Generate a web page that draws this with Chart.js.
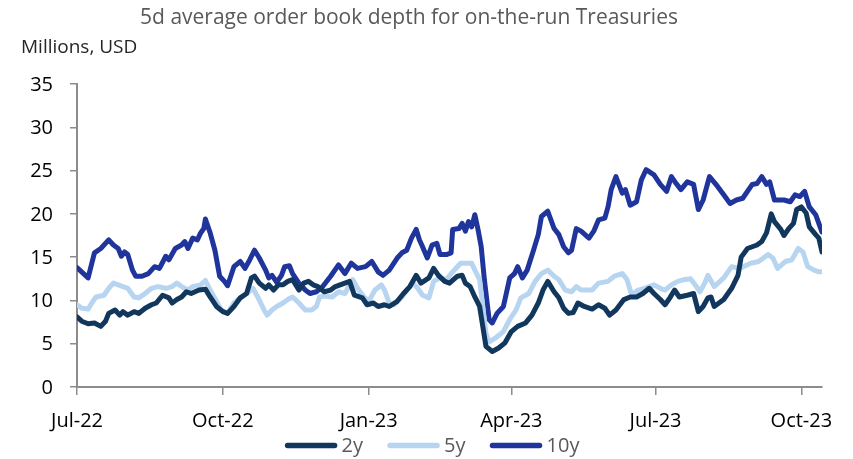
<!DOCTYPE html>
<html>
<head>
<meta charset="utf-8">
<script src="https://cdn.jsdelivr.net/npm/chart.js@4.4.1/dist/chart.umd.min.js"></script>
<style>
  html, body { margin: 0; padding: 0; background: #ffffff; }
  canvas { display: block; }
</style>
</head>
<body>
<canvas id="depth" width="853" height="459"></canvas>
<script>
// x positions are calendar days counted from 1 July 2022
const tickDays = [0, 92, 184, 274, 365, 457];
const tickLabels = ['Jul-22', 'Oct-22', 'Jan-23', 'Apr-23', 'Jul-23', 'Oct-23'];
const lastDay = 470;

const seriesNames = ['2y', '5y', '10y'];

const days2y = [0,3,7,11,15,18,20,24,27,29,
  32,36,39,43,47,50,54,58,60,63,
  66,69,72,77,81,84,88,92,95,99,
  103,107,110,112,115,119,121,124,127,130,
  133,136,140,143,146,149,152,156,160,163,
  169,172,175,180,183,187,190,194,197,202,
  206,210,214,217,222,225,228,232,235,240,
  243,245,248,251,254,256,258,262,266,270,
  274,278,283,287,291,294,297,301,304,307,
  310,313,316,320,325,329,333,336,340,345,
  349,353,357,361,364,368,371,374,377,380,
  385,389,392,395,398,400,402,408,413,417,
  419,423,429,432,435,438,440,444,446,449,
  452,454,457,460,462,466,468,470];
const depth2y = [8.1,7.6,7.3,7.4,7.0,7.6,8.5,8.9,8.3,8.7,
  8.3,8.7,8.5,9.1,9.5,9.7,10.6,10.3,9.7,10.1,
  10.4,11.0,10.8,11.2,11.3,10.4,9.3,8.7,8.5,9.3,
  10.3,10.8,12.6,12.8,12.0,11.4,11.8,11.2,11.8,11.8,
  12.2,12.4,11.2,12.0,12.2,11.8,11.6,11.0,11.2,11.6,
  12.0,12.2,10.6,10.3,9.5,9.7,9.3,9.5,9.3,9.9,
  10.8,11.6,12.9,12.0,12.6,13.7,12.9,12.2,12.0,12.8,
  12.9,12.0,11.6,10.4,9.3,7.0,4.7,4.1,4.5,5.1,
  6.4,7.0,7.4,8.3,9.7,11.2,12.2,11.0,10.3,9.1,
  8.5,8.6,9.7,9.3,9.0,9.5,9.1,8.3,8.9,10.1,
  10.4,10.4,10.8,11.4,10.8,10.1,9.5,10.3,11.2,10.4,
  10.6,10.8,8.7,9.3,10.3,10.4,9.3,10.1,11.4,12.9,
  15.0,16.0,16.4,16.8,17.8,20.0,19.1,18.2,17.5,18.3,
  18.9,20.5,20.8,20.1,18.5,17.6,17.2,15.6];

const days5y = [0,3,7,10,12,17,20,23,26,29,
  32,36,39,43,47,51,56,60,63,66,
  70,73,78,81,84,88,91,95,99,103,
  107,111,114,118,120,123,126,130,133,136,
  140,144,148,151,153,156,161,165,169,172,
  174,177,181,184,188,192,194,197,200,205,
  209,212,215,218,222,225,229,233,237,242,
  246,249,251,254,256,258,260,265,269,273,
  277,280,285,289,293,297,301,304,308,312,
  315,318,325,329,335,339,344,347,350,354,
  358,364,368,371,375,379,383,387,390,393,
  396,398,402,408,413,418,425,430,436,439,
  442,447,451,455,458,461,465,468,470];
const depth5y = [9.5,9.1,9.0,9.9,10.4,10.6,11.4,12.0,11.8,11.6,
  11.4,10.4,10.3,10.8,11.4,11.6,11.4,11.6,12.0,11.6,
  11.2,11.6,11.8,12.3,11.2,9.9,8.9,8.5,9.7,10.3,
  10.8,11.4,10.4,8.9,8.3,8.9,9.3,9.7,10.1,10.4,
  9.7,8.9,8.9,9.3,10.4,10.5,10.4,11.0,10.8,11.8,
  12.4,11.4,10.4,9.9,11.2,11.8,11.2,9.7,9.5,10.4,
  11.4,12.0,11.4,10.6,10.3,12.2,12.6,12.4,13.3,14.3,
  14.3,14.3,13.5,12.4,9.3,6.2,5.2,5.8,6.4,7.8,
  8.9,10.3,10.8,12.2,13.1,13.5,12.8,12.4,11.2,11.0,
  11.6,11.2,11.2,12.0,12.2,12.8,13.1,12.4,10.6,11.2,
  11.4,11.8,11.4,11.2,11.8,12.2,12.4,12.5,11.8,11.0,
  12.0,12.9,11.6,12.6,13.9,13.7,14.3,14.5,15.3,14.9,
  13.7,14.5,14.7,16.0,15.6,13.9,13.5,13.3,13.3];

const days10y = [0,7,11,15,20,23,26,28,30,32,
  35,37,41,45,49,52,56,58,62,66,
  68,70,73,76,78,80,81,84,87,90,
  93,95,99,103,106,109,112,115,119,121,
  123,126,129,131,134,136,140,144,147,151,
  155,160,165,169,173,177,182,186,190,193,
  197,202,205,208,211,214,216,218,221,224,
  227,229,233,236,237,241,243,245,247,249,
  251,253,255,257,260,262,265,269,273,276,
  278,281,284,288,291,293,297,301,304,307,
  310,312,315,318,323,326,329,333,335,337,
  340,344,346,349,353,356,359,364,368,372,
  375,378,381,385,389,392,395,399,404,408,
  412,416,420,426,429,432,435,437,440,446,
  450,453,456,459,462,466,470];
const depth10y = [13.8,12.6,15.5,16.0,17.0,16.4,16.0,15.1,15.6,15.3,
  13.5,12.8,12.8,13.1,13.9,13.7,15.1,14.7,16.0,16.4,
  16.8,16.0,17.2,17.0,17.8,18.3,19.4,17.8,15.8,12.8,
  12.2,11.7,13.9,14.5,13.7,14.7,15.8,14.9,13.5,12.6,
  12.9,12.1,12.9,13.9,14.0,13.1,12.0,11.2,10.8,11.0,
  11.6,12.8,14.1,13.1,14.3,13.7,13.9,14.5,13.3,12.9,
  13.5,14.9,15.5,15.8,17.2,18.2,17.0,16.2,14.9,16.4,
  16.6,15.3,15.3,15.5,18.2,18.3,18.9,18.0,19.1,18.5,
  19.9,18.2,16.2,12.4,7.8,7.4,8.5,9.3,12.6,13.1,
  13.9,12.6,13.5,15.8,17.6,19.7,20.3,18.3,17.6,16.2,
  15.5,15.8,18.3,18.0,17.2,18.0,19.3,19.5,20.8,22.8,
  24.3,22.4,22.8,21.0,21.4,23.9,25.1,24.5,23.4,22.6,
  24.3,23.5,22.8,23.7,23.4,20.5,21.6,24.3,23.2,22.2,
  21.2,21.6,21.8,23.4,23.5,24.3,23.4,23.7,21.6,21.6,
  21.4,22.2,22.0,22.6,20.8,19.9,17.9];

const yTicks = [0, 5, 10, 15, 20, 25, 30, 35];

const FONT = '"Open Sans", "DejaVu Sans", sans-serif';
const AXIS_GREY = '#8c8c8c';
const LEGEND_GREY = '#595959';

function toPoints(days, values) {
  return days.map((d, i) => ({ x: d, y: values[i] }));
}

function lineSet(label, days, values, colour) {
  return {
    label: label,
    data: toPoints(days, values),
    borderColor: colour,
    backgroundColor: colour,
    borderWidth: 5,
    borderJoinStyle: 'round',
    borderCapStyle: 'round',
    pointRadius: 0,
    tension: 0,
    fill: false
  };
}

// Heading and unit caption above the plot
const headings = {
  id: 'headings',
  afterDraw(chart) {
    const ctx = chart.ctx;
    ctx.save();
    ctx.textBaseline = 'middle';
    ctx.textAlign = 'center';
    ctx.fillStyle = '#595959';
    ctx.font = '21px ' + FONT;
    ctx.fillText('5d average order book depth for on-the-run Treasuries', 409, 18);
    ctx.textAlign = 'left';
    ctx.fillStyle = '#262626';
    ctx.font = '19px ' + FONT;
    ctx.fillText('Millions, USD', 21, 48);
    ctx.restore();
  }
};

// Value labels of the y axis, right-aligned a fixed gap left of the plot edge
const yLabels = {
  id: 'yLabels',
  afterDraw(chart) {
    const ctx = chart.ctx;
    const scale = chart.scales.y;
    const edge = chart.chartArea.left;
    ctx.save();
    ctx.font = '20px ' + FONT;
    ctx.fillStyle = '#000000';
    ctx.textAlign = 'right';
    ctx.textBaseline = 'middle';
    yTicks.forEach(v => {
      ctx.fillText(String(v), edge - 24, scale.getPixelForValue(v) + 1);
    });
    ctx.restore();
  }
};

// One-row legend under the axis: short rounded line swatch, then the series name
const legendRow = {
  id: 'legendRow',
  afterDraw(chart) {
    const ctx = chart.ctx;
    const swatch = 53, textGap = 4, itemGap = 24, midX = 432, lineY = 445.5;
    ctx.save();
    ctx.font = '20px ' + FONT;
    const items = chart.data.datasets.map(ds => ({
      text: ds.label,
      colour: ds.borderColor,
      width: ctx.measureText(ds.label).width
    }));
    const total = items.reduce((s, it) => s + swatch + textGap + it.width, 0) + itemGap * (items.length - 1);
    let x = midX - total / 2;
    items.forEach(it => {
      ctx.strokeStyle = it.colour;
      ctx.lineWidth = 5.5;
      ctx.lineCap = 'round';
      ctx.beginPath();
      ctx.moveTo(x + 3, lineY);
      ctx.lineTo(x + swatch - 3, lineY);
      ctx.stroke();
      ctx.fillStyle = LEGEND_GREY;
      ctx.textAlign = 'left';
      ctx.textBaseline = 'middle';
      ctx.fillText(it.text, x + swatch + textGap, lineY + 1);
      x += swatch + textGap + it.width + itemGap;
    });
    ctx.restore();
  }
};

new Chart(document.getElementById('depth'), {
  type: 'line',
  data: {
    datasets: [
      lineSet(seriesNames[0], days2y, depth2y, '#12375c'),
      lineSet(seriesNames[1], days5y, depth5y, '#b7d5f1'),
      lineSet(seriesNames[2], days10y, depth10y, '#1f359c')
    ]
  },
  options: {
    responsive: false,
    animation: false,
    devicePixelRatio: 1,
    layout: { padding: { top: 84, left: 0, right: 31, bottom: 20 } },
    plugins: {
      title: { display: false },
      tooltip: { enabled: false },
      legend: { display: false }
    },
    scales: {
      x: {
        type: 'linear',
        min: 0,
        max: lastDay,
        afterBuildTicks(scale) {
          scale.ticks = tickDays.map(v => ({ value: v }));
        },
        afterFit(scale) { scale.height = 52; },
        ticks: {
          autoSkip: false,
          maxRotation: 0,
          padding: 14,
          color: '#000000',
          font: { family: FONT, size: 20 },
          callback(value) {
            const i = tickDays.indexOf(value);
            return i >= 0 ? tickLabels[i] : '';
          }
        },
        grid: { drawOnChartArea: false, drawTicks: true, tickLength: 8, color: AXIS_GREY, lineWidth: 1.5 },
        border: { display: true, color: AXIS_GREY, width: 2 }
      },
      y: {
        min: 0,
        max: 35,
        afterBuildTicks(scale) {
          scale.ticks = yTicks.map(v => ({ value: v }));
        },
        afterFit(scale) { scale.width = 77; },
        ticks: { display: false },
        grid: { drawOnChartArea: false, drawTicks: true, tickLength: 7, color: AXIS_GREY, lineWidth: 1.5 },
        border: { display: true, color: AXIS_GREY, width: 2 }
      }
    }
  },
  plugins: [headings, yLabels, legendRow]
});
</script>
</body>
</html>
